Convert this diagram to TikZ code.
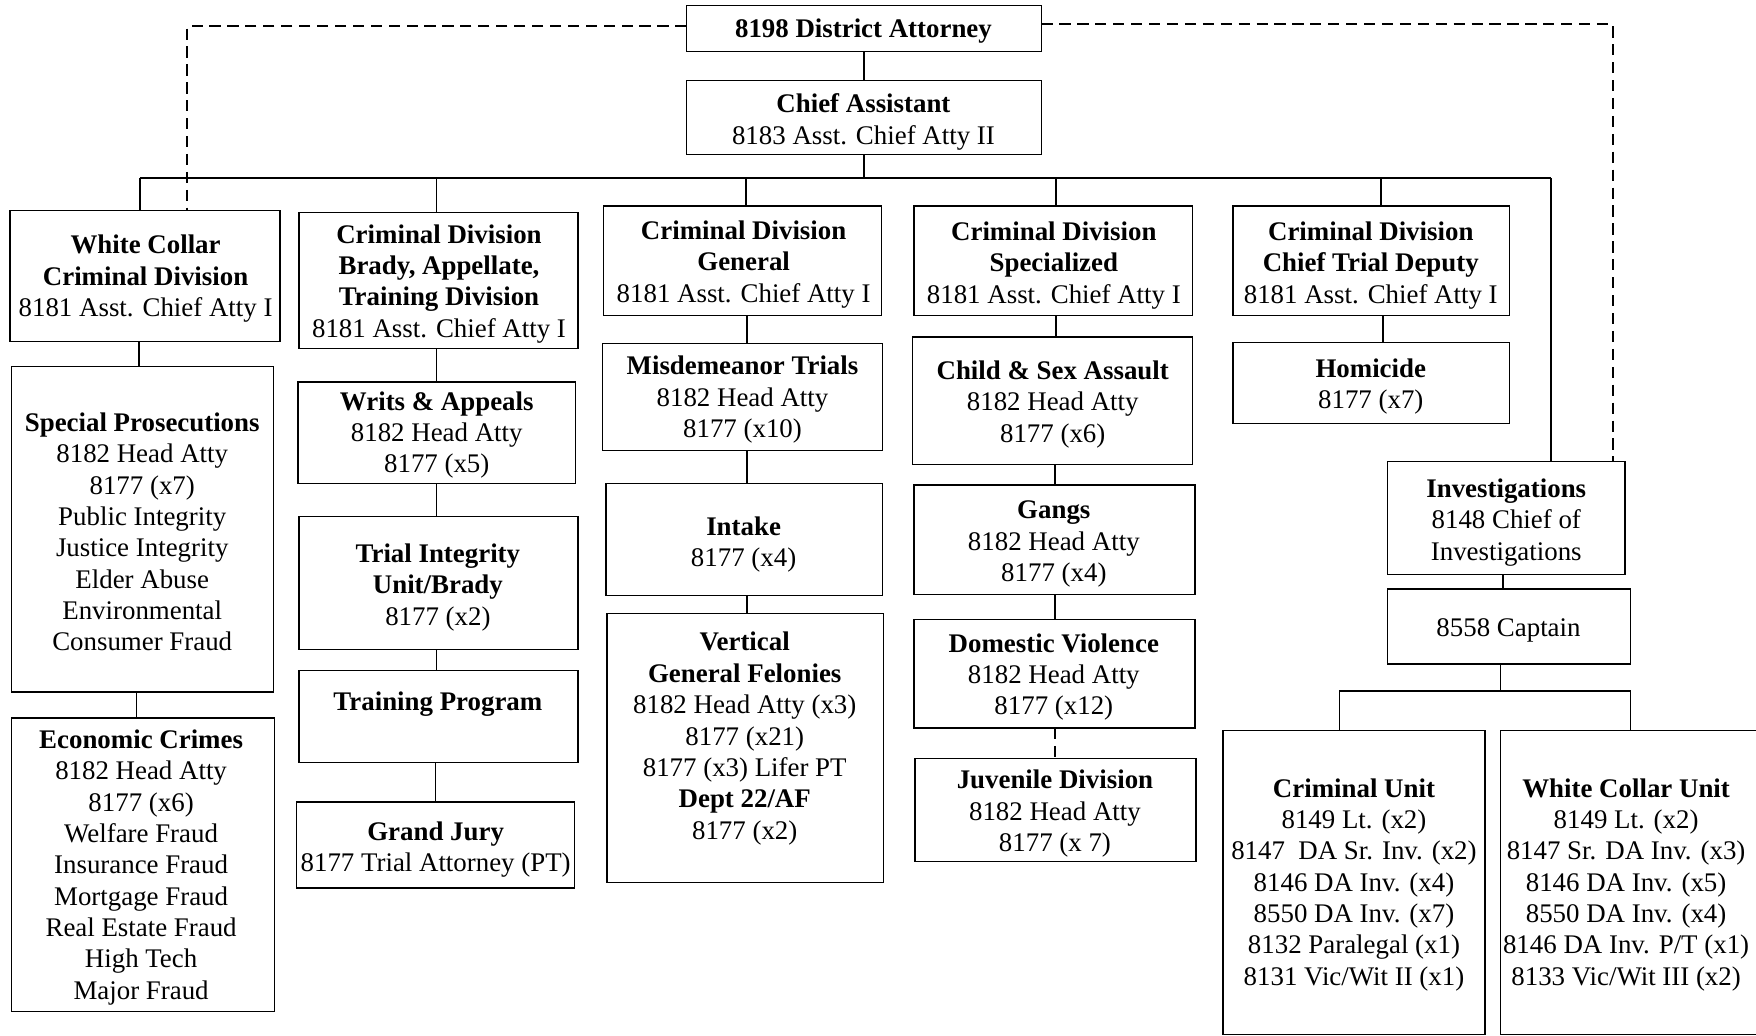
\documentclass[tikz,border=0pt]{standalone}
\usepackage{fontspec}
\setmainfont{Liberation Serif}
\newcommand\Bx[5]{\node[bx, minimum width={#4pt-#2pt}, minimum height={#5pt-#3pt}] (#1) at ({(#2+#4)/2},{(#3+#5)/2}) {};}
\newcommand\Tx[4]{\node[tx] (#1) at (#2,#3) {#4};}
\newcommand\Vc[3]{\draw[ln] (#1.south -| #3,0) -- (#2.north -| #3,0);}
\tikzset{
  bx/.style={draw, line width=1.2pt, inner sep=0pt, outer sep=0pt},
  tx/.style={align=center, inner sep=0pt, font=\fontsize{24}{28}\selectfont},
  ln/.style={line width=1.2pt},
  busln/.style={line width=2.4pt},
  dsh/.style={line width=1.6pt, dash pattern=on 10pt off 6pt},
}
\begin{document}
\begin{tikzpicture}[x=1pt,y=-1pt]
\clip (0,0) rectangle (1568,925);
\fill[white] (0,0) rectangle (1568,925);
% boxes
\Bx{da}{613}{5}{930}{46}
\Bx{ca}{613}{72}{930}{138}
\Bx{wc}{9}{188}{250}{305}
\Bx{sp}{10}{327}{244}{618}
\Bx{ec}{10}{641}{245}{903}
\Bx{br}{267}{190}{516}{311}
\Bx{wr}{266}{341}{514}{432}
\Bx{ti}{267}{461}{516}{580}
\Bx{tp}{267}{599}{516}{681}
\Bx{gj}{265}{716}{513}{793}
\Bx{gen}{539}{184}{787}{282}
\Bx{mis}{538}{307}{788}{402}
\Bx{ink}{541}{432}{788}{532}
\Bx{vgf}{542}{548}{789}{788}
\Bx{spc}{816}{184}{1065}{282}
\Bx{cs}{815}{301}{1065}{415}
\Bx{ga}{816}{433}{1067}{531}
\Bx{dv}{816}{553}{1067}{650}
\Bx{juv}{817}{677}{1068}{769}
\Bx{ctd}{1101}{184}{1348}{282}
\Bx{hom}{1101}{306}{1348}{378}
\Bx{inv}{1239}{412}{1451}{513}
\Bx{cap}{1239}{526}{1456}{593}
\Bx{cu}{1092}{652}{1326}{923.5}
\Bx{wu}{1340}{652}{1590}{923.5}
% texts
\Tx{da-t}{771}{28}{\textbf{8198 District Attorney}}
\Tx{ca-t}{771}{109}{\textbf{Chief Assistant}\\8183 Asst. Chief Atty II}
\Tx{wc-t}{130}{249}{\textbf{White Collar}\\\textbf{Criminal Division}\\8181 Asst. Chief Atty I}
\Tx{sp-t}{127}{475}{\fontsize{24}{28.7}\selectfont\textbf{Special Prosecutions}\\8182 Head Atty\\8177 (x7)\\Public Integrity\\Justice Integrity\\Elder Abuse\\Environmental\\Consumer Fraud}
\Tx{ec-t}{126}{774.5}{\fontsize{24}{27.6}\selectfont\textbf{Economic Crimes}\\8182 Head Atty\\8177 (x6)\\Welfare Fraud\\Insurance Fraud\\Mortgage Fraud\\Real Estate Fraud\\High Tech\\Major Fraud}
\Tx{br-t}{392}{253.5}{\textbf{Criminal Division}\\\textbf{Brady, Appellate,}\\\textbf{Training Division}\\8181 Asst. Chief Atty I}
\Tx{wr-t}{390}{388.5}{\textbf{Writs \& Appeals}\\8182 Head Atty\\8177 (x5)}
\Tx{ti-t}{391}{524.5}{\textbf{Trial Integrity}\\\textbf{Unit/Brady}\\8177 (x2)}
\Tx{tp-t}{391}{629}{\textbf{Training Program}}
\Tx{gj-t}{389}{758.5}{\textbf{Grand Jury}\\8177 Trial Attorney (PT)}
\Tx{gen-t}{664}{236}{\textbf{Criminal Division}\\\textbf{General}\\8181 Asst. Chief Atty I}
\Tx{mis-t}{663}{357}{\textbf{Misdemeanor Trials}\\8182 Head Atty\\8177 (x10)}
\Tx{ink-t}{664}{486}{\textbf{Intake}\\8177 (x4)}
\Tx{vgf-t}{665}{659.5}{\textbf{Vertical}\\\textbf{General Felonies}\\8182 Head Atty (x3)\\8177 (x21)\\8177 (x3) Lifer PT\\\textbf{Dept 22/AF}\\8177 (x2)}
\Tx{spc-t}{941}{237}{\textbf{Criminal Division}\\\textbf{Specialized}\\8181 Asst. Chief Atty I}
\Tx{cs-t}{940}{361}{\textbf{Child \& Sex Assault}\\8182 Head Atty\\8177 (x6)}
\Tx{ga-t}{941}{486}{\textbf{Gangs}\\8182 Head Atty\\8177 (x4)}
\Tx{dv-t}{941}{604.5}{\textbf{Domestic Violence}\\8182 Head Atty\\8177 (x12)}
\Tx{juv-t}{942}{726.5}{\textbf{Juvenile Division}\\8182 Head Atty\\8177 (x 7)}
\Tx{ctd-t}{1224}{237}{\textbf{Criminal Division}\\\textbf{Chief Trial Deputy}\\8181 Asst. Chief Atty I}
\Tx{hom-t}{1224}{345}{\textbf{Homicide}\\8177 (x7)}
\Tx{inv-t}{1345}{466.5}{\textbf{Investigations}\\8148 Chief of\\Investigations}
\Tx{cap-t}{1347}{563}{8558 Captain}
\Tx{cu-t}{1209}{790}{\textbf{Criminal Unit}\\8149 Lt. (x2)\\8147\ \ DA Sr. Inv. (x2)\\8146 DA Inv. (x4)\\8550 DA Inv. (x7)\\8132 Paralegal (x1)\\8131 Vic/Wit II (x1)}
\Tx{wu-t}{1452}{790}{\textbf{White Collar Unit}\\8149 Lt. (x2)\\8147 Sr. DA Inv. (x3)\\8146 DA Inv. (x5)\\8550 DA Inv. (x4)\\8146 DA Inv. P/T (x1)\\8133 Vic/Wit III (x2)}
% bus coordinates
\coordinate (bus) at (0,159);
\coordinate (ibus) at (0,617);
% top connectors
\draw[ln] (da.south) -- (ca.north);
\draw[ln] (ca.south) -- (ca.south |- bus);
\draw[busln] (bus -| 125,0) -- (bus -| 1385,0);
\draw[ln] (bus -| 125,0) -- (wc.north -| 125,0);
\draw[ln] (bus -| 390,0) -- (br.north -| 390,0);
\draw[ln] (bus -| 666,0) -- (gen.north -| 666,0);
\draw[ln] (bus -| 943,0) -- (spc.north -| 943,0);
\draw[ln] (bus -| 1233,0) -- (ctd.north -| 1233,0);
\draw[line width=1.6pt] (bus -| 1385,0) -- (inv.north -| 1385,0);
% dashed links
\draw[dsh] ([yshift=2pt]da.west) -- ([yshift=2pt]da.west -| 167,0) -- (wc.north -| 167,0);
\draw[dsh] ([yshift=4pt]da.east) -- ([yshift=4pt]da.east -| 1440,0) -- (inv.north -| 1440,0);
% column connectors
\Vc{wc}{sp}{124}
\Vc{sp}{ec}{122}
\Vc{br}{wr}{390}
\Vc{wr}{ti}{390}
\Vc{ti}{tp}{390}
\Vc{tp}{gj}{389}
\Vc{gen}{mis}{667}
\Vc{mis}{ink}{667}
\Vc{ink}{vgf}{667}
\Vc{spc}{cs}{943}
\Vc{cs}{ga}{942}
\Vc{ga}{dv}{942}
\draw[dsh] (dv.south -| 942,0) -- (juv.north -| 942,0);
\Vc{ctd}{hom}{1235}
\Vc{inv}{cap}{1342}
% investigations sub-bus
\draw[ln] (cap.south -| 1340,0) -- (ibus -| 1340,0);
\draw[busln] (ibus -| 1196,0) -- (ibus -| 1456,0);
\draw[ln] (ibus -| 1196,0) -- (cu.north -| 1196,0);
\draw[ln] (ibus -| 1456,0) -- (wu.north -| 1456,0);
\end{tikzpicture}
\end{document}
